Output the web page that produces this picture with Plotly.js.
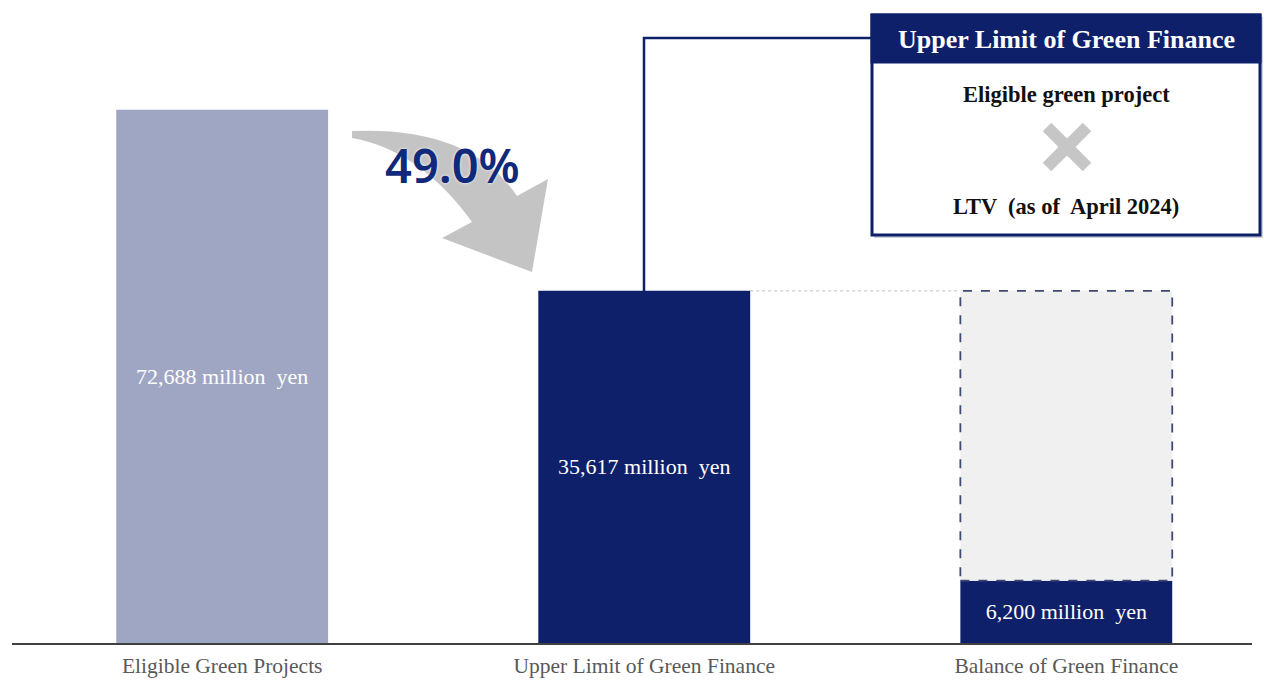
<!DOCTYPE html>
<html>
<head>
<meta charset="utf-8">
<script src="https://cdn.plot.ly/plotly-3.0.1.min.js"></script>
<style>html,body{margin:0;padding:0;background:#fff;}#chart{width:1264px;height:681px;}</style>
</head>
<body>
<div id="chart"></div>
<script>
// ---- data ----
const categories = ["Eligible Green Projects", "Upper Limit of Green Finance", "Balance of Green Finance"];
const values = [72688, 35617, 6200];               // million yen (labels)
const barLevels = [72688, 47990, 8490];            // bar heights as drawn in the (not-to-scale) reference
const ratioLabel = "49.0%";
const calloutTitle = "Upper Limit of Green Finance";
const calloutLine1 = "Eligible green project";
const calloutLine2 = "LTV  (as of  April 2024)";
const unit = " million  yen";

// ---- layout helpers ----
const W = 1264, H = 681;
const M = {l: 12, r: 12, t: 56, b: 38};
const PW = W - M.l - M.r, PH = H - M.t - M.b;
const px = x => (x - M.l) / PW;
const py = y => (M.t + PH - y) / PH;
const navy = "#0f206a";
const barW = 0.502;

const labels = values.map(v => v.toLocaleString("en-US") + unit);

const trace = {
  type: "bar",
  x: [0, 1, 2],
  y: barLevels,
  width: barW,
  marker: {color: ["#9fa6c3", navy, navy], line: {width: 0}},
  text: labels,
  textposition: "inside",
  insidetextanchor: "middle",
  constraintext: "none",
  textangle: 0,
  textfont: {family: "Liberation Serif", size: 22, color: "#ffffff"},
  hoverinfo: "skip"
};

// curved arrow path (pixel points -> paper coords)
function P(x, y) { return px(x).toFixed(5) + "," + py(y).toFixed(5); }
const arrowPath = "M" + P(352, 131) + " Q" + P(470, 126) + " " + P(517, 196) +
  " L" + P(548, 179) + " L" + P(532, 272) + " L" + P(442, 238) + " L" + P(472, 222) +
  " Q" + P(420, 150) + " " + P(352, 138) + " Z";

const shapes = [
  // ghost (upper limit) box over balance bar
  {type: "rect", xref: "x", yref: "y", x0: 2 - barW / 2, x1: 2 + barW / 2, y0: barLevels[2], y1: barLevels[1],
   fillcolor: "#f0f0f0", line: {color: "#3f4a72", width: 1.8, dash: "dash"}, layer: "above"},
  // dotted connector between bar 2 top and ghost box
  {type: "line", xref: "x", yref: "y", x0: 1 + barW / 2, x1: 2 - barW / 2, y0: barLevels[1], y1: barLevels[1],
   line: {color: "#bdbdbd", width: 1, dash: "dot"}},
  // arrow
  {type: "path", xref: "paper", yref: "paper", path: arrowPath, fillcolor: "#c4c4c4", line: {width: 0}, layer: "above"},
  // connector from bar 2 to callout
  {type: "path", xref: "paper", yref: "paper",
   path: "M" + P(644, 291) + " L" + P(644, 38) + " L" + P(872, 38),
   line: {color: navy, width: 2.5}, layer: "above"},
  // callout shadow
  {type: "rect", xref: "paper", yref: "paper", x0: px(874), x1: px(1263), y0: py(238), y1: py(17),
   fillcolor: "#cfd2da", line: {width: 0}, layer: "above"},
  // callout box
  {type: "rect", xref: "paper", yref: "paper", x0: px(872), x1: px(1260), y0: py(235), y1: py(15),
   fillcolor: "#ffffff", line: {color: navy, width: 3}, layer: "above"},
  {type: "rect", xref: "paper", yref: "paper", x0: px(872), x1: px(1260), y0: py(62), y1: py(15),
   fillcolor: navy, line: {color: navy, width: 3}, layer: "above"},
  // multiplication mark
  {type: "line", xref: "paper", yref: "paper", x0: px(1047), y0: py(127), x1: px(1087), y1: py(167),
   line: {color: "#c6c6c6", width: 12}, layer: "above"},
  {type: "line", xref: "paper", yref: "paper", x0: px(1087), y0: py(127), x1: px(1047), y1: py(167),
   line: {color: "#c6c6c6", width: 12}, layer: "above"}
];

const annotations = [
  {xref: "paper", yref: "paper", x: px(452), y: py(165), text: ratioLabel, showarrow: false,
   xanchor: "center", yanchor: "middle",
   font: {family: "Noto Sans", size: 47, weight: 600, color: "#10297a", shadow: "0px 0px 3px #ffffff"}},
  {xref: "paper", yref: "paper", x: px(1066), y: py(39), text: "<b>" + calloutTitle + "</b>", showarrow: false,
   xanchor: "center", yanchor: "middle", font: {family: "Liberation Serif", size: 26, color: "#ffffff"}},
  {xref: "paper", yref: "paper", x: px(1066), y: py(94), text: "<b>" + calloutLine1 + "</b>", showarrow: false,
   xanchor: "center", yanchor: "middle", font: {family: "Liberation Serif", size: 22.5, color: "#111111"}},
  {xref: "paper", yref: "paper", x: px(1066), y: py(206), text: "<b>" + calloutLine2 + "</b>", showarrow: false,
   xanchor: "center", yanchor: "middle", font: {family: "Liberation Serif", size: 22.5, color: "#111111"}}
];

const layout = {
  width: W, height: H,
  margin: M,
  paper_bgcolor: "#ffffff", plot_bgcolor: "#ffffff",
  showlegend: false,
  xaxis: {
    range: [-0.498, 2.44], tickvals: [0, 1, 2], ticktext: categories,
    showgrid: false, zeroline: false, showline: true, linecolor: "#404040", linewidth: 2,
    ticks: "", tickfont: {family: "Liberation Serif", size: 21.5, color: "#595959"},
    ticklabelstandoff: 2, fixedrange: true
  },
  yaxis: {range: [0, 80000], visible: false, fixedrange: true},
  shapes: shapes,
  annotations: annotations
};

Plotly.newPlot("chart", [trace], layout, {displayModeBar: false, staticPlot: true});
</script>
</body>
</html>
